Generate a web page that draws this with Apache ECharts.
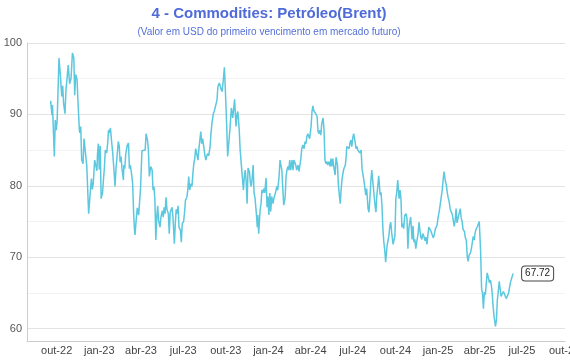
<!DOCTYPE html>
<html><head><meta charset="utf-8">
<script src="https://cdn.jsdelivr.net/npm/echarts@6/dist/echarts.min.js"></script>
<style>html,body{margin:0;padding:0;background:#fff}#c{width:570px;height:360px}</style>
</head><body><div id="c"></div>
<script>
const titleText = '4 - Commodities: Petróleo(Brent)';
const subtitleText = '(Valor em USD do primeiro vencimento em mercado futuro)';
const monthNames = ['jan','fev','mar','abr','mai','jun','jul','ago','set','out','nov','dez'];
const xTickDates = ['2022-10-01','2023-01-01','2023-04-01','2023-07-01','2023-10-01','2024-01-01','2024-04-01','2024-07-01','2024-10-01','2025-01-01','2025-04-01','2025-07-01','2025-10-01'];
const yTickValues = [60, 70, 80, 90, 100];
const yGridValues = [60, 65, 70, 75, 80, 85, 90, 95, 100];

const dates2022 = ['09-18','09-21','09-22','09-26','09-28','09-30','10-02','10-06','10-09','10-12','10-14','10-16','10-19','10-21','10-24','10-26','10-29','11-01','11-04','11-07','11-09','11-11','11-14','11-16','11-19','11-20','11-22','11-24','11-27','11-29','12-02','12-05','12-09','12-12','12-15','12-17','12-19','12-22','12-25','12-27','12-28','12-30'];
const values2022 = [91.9,89.9,91.3,84.1,89.2,87.8,89.0,97.9,95.5,92.5,94.0,91.5,90.1,93.3,93.5,96.9,94.3,95.0,98.6,97.9,92.7,95.6,94.9,91.8,87.8,87.4,88.3,83.6,83.1,86.6,86.8,82.8,76.1,78.7,81.0,79.5,80.3,83.6,83.8,82.1,84.3,85.9];

const dates2023 = ['01-01','01-03','01-05','01-08','01-10','01-12','01-14','01-17','01-19','01-21','01-23','01-25','01-28','01-30','02-01','02-04','02-06','02-09','02-11','02-13','02-15','02-17','02-19','02-22','02-23','02-25','02-27','03-02','03-05','03-07','03-09','03-12','03-14','03-16','03-18','03-19','03-22','03-24','03-27','03-29','03-31','04-03','04-06','04-10','04-12','04-15','04-17','04-19','04-22','04-25','04-27','04-29','05-01','05-03','05-05','05-07','05-09','05-12','05-14','05-17','05-19','05-21','05-23','05-25','05-27','05-30','06-01','06-03','06-05','06-07','06-09','06-12','06-14','06-16','06-18','06-20','06-22','06-25','06-27','06-29','07-02','07-04','07-06','07-09','07-11','07-13','07-15','07-18','07-20','07-22','07-24','07-26','07-28','07-31','08-02','08-04','08-06','08-08','08-10','08-12','08-15','08-17','08-19','08-21','08-23','08-25','08-28','08-30','09-01','09-04','09-06','09-09','09-12','09-14','09-17','09-19','09-21','09-23','09-25','09-28','09-30','10-03','10-05','10-08','10-10','10-13','10-16','10-18','10-20','10-23','10-25','10-27','10-30','11-01','11-03','11-05','11-08','11-10','11-12','11-14','11-16','11-18','11-21','11-23','11-25','11-27','11-29','12-01','12-03','12-06','12-08','12-09','12-11','12-14','12-16','12-18','12-20','12-22','12-24','12-27','12-29','12-31'];
const values2023 = [82.3,85.6,78.2,79.0,80.9,82.5,85.0,84.6,85.9,87.8,87.4,88.1,85.9,84.6,82.8,79.9,82.4,84.6,86.2,85.6,83.3,84.1,82.4,80.8,82.9,82.4,84.4,85.6,86.0,82.4,82.9,81.5,80.3,76.3,73.8,73.1,75.5,76.9,75.9,77.8,79.6,84.9,85.0,85.0,87.3,86.4,85.0,81.3,82.7,82.2,79.4,79.9,78.0,72.4,75.6,77.2,75.1,74.2,75.6,76.5,75.6,77.0,76.1,78.4,76.7,76.1,73.3,76.3,76.5,77.0,75.6,71.9,74.7,76.7,76.1,77.2,74.2,73.8,72.1,74.7,75.0,76.3,78.0,78.4,79.4,81.3,79.4,80.3,79.9,81.7,83.1,83.8,85.2,85.4,83.6,85.2,86.4,87.6,85.9,86.6,85.2,84.2,83.6,84.2,84.5,84.2,85.4,87.3,88.7,90.1,90.4,90.6,92.0,93.9,94.4,94.2,93.5,93.2,94.4,96.6,93.5,88.3,84.1,86.4,88.0,90.9,89.5,90.8,92.1,88.3,90.0,90.4,87.8,85.0,85.2,84.8,79.4,81.3,82.2,80.6,77.5,82.5,82.0,80.4,79.9,81.1,82.9,79.0,78.3,76.1,74.2,75.9,73.3,76.6,77.5,79.4,79.0,79.6,79.0,81.1,77.0,78.5];

const dates2024 = ['01-02','01-04','01-06','01-08','01-11','01-13','01-15','01-17','01-19','01-21','01-24','01-26','01-28','01-30','02-01','02-03','02-06','02-08','02-10','02-12','02-14','02-16','02-18','02-21','02-23','02-25','02-27','02-29','03-02','03-05','03-07','03-09','03-11','03-13','03-15','03-18','03-20','03-22','03-24','03-26','03-28','03-30','04-02','04-04','04-06','04-08','04-10','04-12','04-15','04-17','04-19','04-21','04-23','04-25','04-28','04-30','05-02','05-04','05-06','05-08','05-11','05-13','05-15','05-17','05-19','05-21','05-24','05-26','05-29','05-31','06-02','06-04','06-06','06-08','06-11','06-13','06-15','06-17','06-18','06-20','06-23','06-25','06-27','06-29','07-01','07-03','07-06','07-08','07-10','07-12','07-14','07-16','07-19','07-21','07-23','07-25','07-27','07-29','07-31','08-03','08-05','08-07','08-09','08-11','08-13','08-16','08-18','08-20','08-22','08-24','08-26','08-29','08-31','09-02','09-04','09-06','09-08','09-10','09-13','09-15','09-17','09-19','09-21','09-23','09-26','09-28','09-30','10-02','10-04','10-06','10-09','10-11','10-13','10-15','10-17','10-19','10-21','10-24','10-26','10-28','10-30','11-01','11-03','11-06','11-08','11-10','11-12','11-14','11-16','11-19','11-21','11-23','11-25','11-27','11-29','12-01','12-04','12-06','12-08','12-10','12-12','12-14','12-15','12-17','12-19','12-22','12-24','12-26','12-28','12-30'];
const values2024 = [75.9,79.0,76.4,78.5,77.5,78.3,78.3,79.2,79.9,79.4,81.3,83.6,83.4,82.2,79.6,77.3,78.3,81.3,82.2,82.7,82.2,83.6,82.2,83.6,82.2,83.6,83.6,82.9,82.2,82.9,82.0,82.0,83.8,85.2,85.7,85.2,86.2,85.9,86.9,87.3,87.3,86.6,88.3,90.4,91.2,90.5,90.6,90.1,89.7,87.6,87.3,87.8,87.1,88.7,89.5,87.8,83.6,83.1,83.4,82.9,83.4,82.7,83.8,82.7,83.8,82.7,81.5,84.0,82.9,80.1,78.7,77.5,79.6,81.0,82.2,82.6,82.9,84.3,85.5,85.7,85.2,86.0,86.4,85.5,86.7,87.3,86.2,85.2,85.5,85.0,85.2,84.6,85.0,82.4,82.6,80.8,81.0,78.7,79.6,76.8,76.3,78.2,80.6,82.2,80.8,78.7,77.3,76.3,78.7,79.9,81.4,78.7,79.1,77.3,74.0,72.1,71.0,69.3,71.6,71.8,73.0,74.4,74.9,73.4,71.8,71.6,73.0,78.2,79.1,80.8,78.2,79.4,78.2,74.2,74.7,74.0,75.8,76.1,75.4,71.2,74.0,74.9,75.6,72.5,74.4,72.1,72.5,71.2,72.1,73.3,74.9,73.7,72.8,72.5,73.3,73.0,72.3,72.8,71.8,73.0,74.2,74.4,74.1,73.6,73.2,72.7,73.2,73.9,74.1,74.5];

const dates2025 = ['01-01','01-04','01-06','01-08','01-10','01-12','01-14','01-17','01-19','01-21','01-23','01-25','01-27','01-30','02-01','02-03','02-05','02-07','02-09','02-11','02-14','02-16','02-18','02-20','02-22','02-24','02-27','03-01','03-03','03-05','03-07','03-09','03-12','03-14','03-16','03-18','03-20','03-22','03-24','03-27','03-29','03-31','04-02','04-03','04-05','04-07','04-09','04-11','04-13','04-15','04-17','04-19','04-22','04-24','04-26','04-28','04-30','05-02','05-05','05-07','05-09','05-11','05-13','05-15','05-17','05-20','05-22','05-24','05-26','05-28','05-30','06-02','06-04','06-06','06-08','06-10','06-12'];
const values2025 = [75.5,76.6,76.4,76.8,79.4,80.8,82.0,80.6,80.1,79.0,78.3,77.8,76.8,76.6,75.9,75.9,74.3,75.2,76.8,74.8,75.7,75.5,76.8,75.5,75.0,73.9,73.6,72.7,72.4,70.1,69.4,70.3,70.6,71.2,71.0,72.9,72.4,73.4,73.9,74.3,74.5,75.0,75.0,70.6,65.6,64.9,62.8,65.1,64.7,64.9,67.8,67.3,66.4,66.8,66.1,64.9,63.0,61.6,60.3,61.2,64.0,65.2,66.6,65.6,64.5,64.7,65.2,64.9,64.7,64.2,64.0,64.9,64.7,66.4,66.6,67.3,67.72];

function ts(s) { return new Date(s + 'T00:00:00').getTime(); }
const seriesData = [];
[[2022, dates2022, values2022], [2023, dates2023, values2023], [2024, dates2024, values2024], [2025, dates2025, values2025]].forEach(([y, ds, vs]) => {
  ds.forEach((d, i) => seriesData.push([ts(y + '-' + d), vs[i]]));
});

const chart = echarts.init(document.getElementById('c'), null, { renderer: 'canvas' });
chart.setOption({
  animation: false,
  backgroundColor: '#ffffff',
  textStyle: { fontFamily: 'Liberation Sans, Arial, sans-serif' },
  title: {
    text: titleText,
    subtext: subtitleText,
    left: 264,
    textAlign: 'center',
    top: 1,
    itemGap: 6,
    textStyle: { color: '#4f6bd8', fontSize: 15, fontWeight: 'bold', fontFamily: 'Liberation Sans, Arial, sans-serif' },
    subtextStyle: { color: '#5470d6', fontSize: 10, fontFamily: 'Liberation Sans, Arial, sans-serif' }
  },
  grid: { left: 27, right: 5, top: 43, bottom: 19, containLabel: false, outerBoundsMode: 'none' },
  xAxis: {
    type: 'value',
    min: ts('2022-07-29'),
    max: ts('2025-10-02'),
    axisLine: { show: true, lineStyle: { color: '#cccccc', width: 1 } },
    axisTick: { show: false, customValues: xTickDates.map(ts) },
    splitLine: { show: false },
    axisLabel: {
      customValues: xTickDates.map(ts),
      color: '#444444',
      fontSize: 11,
      margin: 4,
      hideOverlap: false,
      formatter: (v) => { const d = new Date(v); return monthNames[d.getMonth()] + '-' + String(d.getFullYear()).slice(2); }
    }
  },
  yAxis: {
    type: 'value',
    min: 58.26,
    max: 100,
    axisLine: { show: true, lineStyle: { color: '#cccccc', width: 1 } },
    axisTick: { show: false, customValues: yGridValues },
    axisLabel: { customValues: yTickValues, color: '#555555', fontSize: 11, margin: 5 },
    splitLine: { show: true, lineStyle: { color: ['#e3e3e3', '#f2f2f2'], width: 1 } }
  },
  series: [{
    type: 'line',
    data: seriesData,
    showSymbol: false,
    symbol: 'none',
    lineStyle: { color: '#5bc8df', width: 1.5 },
    itemStyle: { color: '#5bc8df' },
    endLabel: {
      show: true,
      formatter: (p) => p.value[1].toFixed(2),
      backgroundColor: '#ffffff',
      borderColor: '#444444',
      borderWidth: 1,
      borderRadius: 3,
      padding: [2, 3],
      fontSize: 10,
      color: '#222222',
      distance: 9
    }
  }]
});
</script></body></html>
